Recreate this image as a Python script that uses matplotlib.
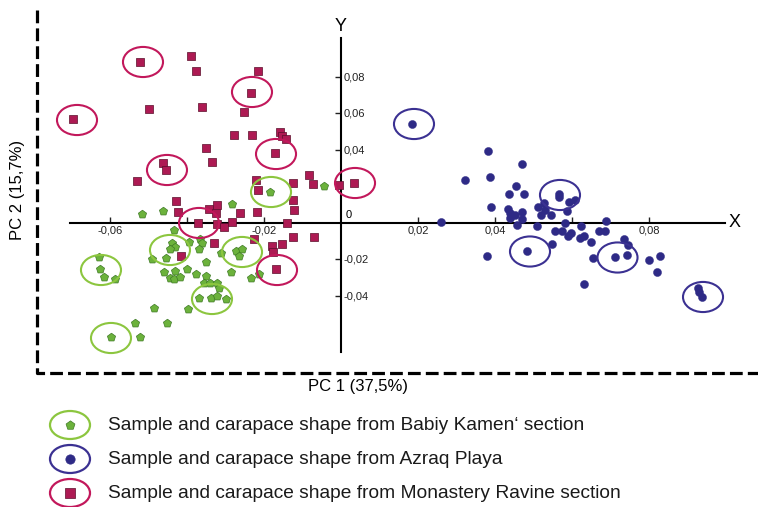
import numpy as np
import matplotlib.pyplot as plt
from matplotlib.patches import Ellipse

plt.rcParams['font.family'] = ['Liberation Sans', 'DejaVu Sans']

# Monastery Ravine section (squares)
mr_x = [-0.05213, -0.03896, -0.03758, -0.02148, -0.02338, -0.04979, -0.06961, -0.03603,
        -0.02519, -0.02779, -0.02304, -0.01584, -0.01525, -0.01429, -0.03514, -0.01706,
        -0.04623, -0.04545, -0.03343, -0.05291, -0.00823, -0.02200, -0.01247, -0.00719,
        -0.02156, -0.00052, 0.00330, -0.04286, -0.01247, -0.04226, -0.03421, -0.03229,
        -0.03247, -0.02623, -0.02174, -0.01213, -0.03727, -0.03229, -0.02831, -0.01390,
        -0.03039, -0.03291, -0.04156, -0.01239, -0.00694, -0.01784, -0.01525, -0.02252,
        -0.01758, -0.01688]
mr_y = [0.08778, 0.09107, 0.08285, 0.08301, 0.07079, 0.06236, 0.05688, 0.06345,
        0.06038, 0.04811, 0.04811, 0.04975, 0.04740, 0.04575, 0.04082, 0.03792,
        0.03244, 0.02893, 0.03299, 0.02290, 0.02603, 0.02329, 0.02148, 0.02110,
        0.01781, 0.02038, 0.02148, 0.01162, 0.01216, 0.00592, 0.00740, 0.00959,
        0.00521, 0.00504, 0.00559, 0.00668, -0.00044, -0.00082, 0.00011, -0.00044,
        -0.00230, -0.01140, -0.01852, -0.00795, -0.00811, -0.01315, -0.01167, -0.00904,
        -0.01600, -0.02564]

# Babiy Kamen' section (pentagons)
bk_x = [-0.05177, -0.04616, -0.02831, -0.01857, -0.00431, -0.04338, -0.04382, -0.04312,
        -0.04449, -0.03956, -0.03662, -0.03623, -0.03696, -0.04558, -0.04917, -0.06281,
        -0.06260, -0.06156, -0.05862, -0.03117, -0.02727, -0.02579, -0.02649, -0.03506,
        -0.04590, -0.04304, -0.04442, -0.04330, -0.04174, -0.03992, -0.03774, -0.03499,
        -0.02865, -0.02330, -0.02122, -0.03551, -0.03403, -0.03229, -0.03161, -0.03680,
        -0.03369, -0.03229, -0.02987, -0.04849, -0.03982, -0.05343, -0.04512, -0.05974,
        -0.05221]
bk_y = [0.00455, 0.00630, 0.00997, 0.01682, 0.01978, -0.00438, -0.01096, -0.01326,
        -0.01468, -0.01085, -0.00877, -0.01123, -0.01436, -0.01918, -0.02016, -0.01874,
        -0.02532, -0.02986, -0.03096, -0.01671, -0.01545, -0.01479, -0.01852, -0.02164,
        -0.02729, -0.02641, -0.03058, -0.03096, -0.02970, -0.02564, -0.02822, -0.02915,
        -0.02729, -0.03058, -0.02822, -0.03299, -0.03299, -0.03332, -0.03605, -0.04137,
        -0.04137, -0.04011, -0.04208, -0.04685, -0.04740, -0.05490, -0.05507, -0.06274,
        -0.06258]

# Azraq Playa (dots)
az_x = [0.01836, 0.03810, 0.04709, 0.03221, 0.03870, 0.04553, 0.04356, 0.04753,
        0.05655, 0.05670, 0.05930, 0.06078, 0.03888, 0.04345, 0.04377, 0.04397,
        0.04527, 0.04701, 0.04714, 0.04579, 0.05125, 0.05260, 0.05306, 0.05182,
        0.05447, 0.05862, 0.02597, 0.05099, 0.05818, 0.05571, 0.05753, 0.05888,
        0.05974, 0.06229, 0.06216, 0.06299, 0.06506, 0.06701, 0.06862, 0.06896,
        0.07345, 0.07462, 0.05473, 0.04831, 0.03784, 0.06553, 0.07125, 0.07421,
        0.08005, 0.08286, 0.08208, 0.06299, 0.09273, 0.09304, 0.09382]
az_y = [0.05414, 0.03934, 0.03222, 0.02345, 0.02477, 0.02016, 0.01545, 0.01545,
        0.01578, 0.01381, 0.01140, 0.01233, 0.00849, 0.00740, 0.00504, 0.00247,
        0.00411, 0.00548, 0.00208, -0.00121, 0.00849, 0.01068, 0.00685, 0.00411,
        0.00384, 0.00630, 0.00011, -0.00219, -0.00027, -0.00466, -0.00466, -0.00756,
        -0.00548, -0.00181, -0.00822, -0.00723, -0.01058, -0.00477, -0.00477, 0.00082,
        -0.00921, -0.01233, -0.01195, -0.01578, -0.01852, -0.01956, -0.01890, -0.01781,
        -0.02066, -0.01852, -0.02701, -0.03359, -0.03589, -0.03781, -0.04066]

# samples with carapace shape drawn (circled)
mr_circ_x = [-0.05143, -0.02312, -0.06857, -0.01688, -0.04520, 0.00364, -0.03688, -0.01662]
mr_circ_y = [0.08795, 0.07151, 0.05616, 0.03753, 0.02877, 0.02164, -0.00027, -0.02603]
bk_circ_x = [-0.01818, -0.04442, -0.02571, -0.06234, -0.03351, -0.05974]
bk_circ_y = [0.01671, -0.01507, -0.01616, -0.02603, -0.04192, -0.06329]
az_circ_x = [0.01896, 0.05688, 0.04909, 0.07182, 0.09403]
az_circ_y = [0.05397, 0.01507, -0.01589, -0.01918, -0.04082]

xticks = [-0.06, -0.04, -0.02, 0.02, 0.04, 0.06, 0.08]
xtick_labels = ['-0,06', '', '-0,02', '0,02', '0,04', '', '0,08']
yticks = [-0.04, -0.02, 0.02, 0.04, 0.06, 0.08]
ytick_labels = ['-0,04', '-0,02', '', '0,04', '0,06', '0,08']

legend_labels = ['Sample and carapace shape from Babiy Kamen\u2018 section',
                 'Sample and carapace shape from Azraq Playa',
                 'Sample and carapace shape from Monastery Ravine section']

green, green_ring = '#6cb23c', '#8cc63f'
blue, blue_ring = '#2e2a86', '#3b3192'
red, red_ring = '#ad1a53', '#c2185b'

W, H = 758, 507
fig = plt.figure(figsize=(W / 100, H / 100), dpi=100)
ax = fig.add_axes([0, 0, 1, 1])
ax.set_xlim(-341 / 3850, (W - 341) / 3850)
ax.set_ylim((222.5 - H) / 1825, 222.5 / 1825)

# axes crossing at origin
ax.spines['top'].set_visible(False)
ax.spines['left'].set_visible(False)
ax.spines['bottom'].set_position(('data', 0))
ax.spines['right'].set_position(('data', 0))
ax.spines['bottom'].set_bounds(-0.0703, 0.0997)
ax.spines['right'].set_bounds(-0.071, 0.101)
for s in ('bottom', 'right'):
    ax.spines[s].set_linewidth(1.5)
ax.xaxis.tick_bottom()
ax.yaxis.tick_right()
ax.set_xticks(xticks, xtick_labels)
ax.set_yticks(yticks, ytick_labels)
ax.tick_params(direction='in', length=4, width=1, labelsize=8, pad=2, colors='#222222')
ax.set_facecolor('none')

ax.annotate('0', (0, 0), xytext=(3, 2), textcoords='offset points', fontsize=8, va='bottom')
ax.annotate('Y', (0, 0.101), xytext=(0, 2), textcoords='offset points',
            fontsize=13, ha='center', va='bottom')
ax.annotate('X', (0.0997, 0), xytext=(3, 0), textcoords='offset points',
            fontsize=13, ha='left', va='center')

# points
ax.scatter(mr_x, mr_y, marker='s', s=30, c=red, edgecolors='#5b0d2b', linewidths=0.5, zorder=3)
ax.scatter(bk_x, bk_y, marker='p', s=38, c=green, edgecolors='#3f7a26', linewidths=0.5, zorder=3)
ax.scatter(az_x, az_y, marker='o', s=34, c=blue, edgecolors=blue, linewidths=0.3, zorder=3)

# circled samples
ew, eh = 0.0104, 0.0165
for xs, ys, col in ((mr_circ_x, mr_circ_y, red_ring),
                    (bk_circ_x, bk_circ_y, green_ring),
                    (az_circ_x, az_circ_y, blue_ring)):
    for cx, cy in zip(xs, ys):
        ax.add_patch(Ellipse((cx, cy), ew, eh, fill=False, edgecolor=col, lw=1.5, zorder=4))

# dashed frame
fx = lambda px: px / W
fy = lambda py: 1 - py / H
ax.plot([fx(37), fx(37), 1.0], [fy(10), fy(373), fy(373)], transform=ax.transAxes,
        color='black', lw=2.3, linestyle=(0, (4, 1.6)), clip_on=False)

ax.text(fx(18), fy(190), 'PC 2 (15,7%)', transform=ax.transAxes, rotation=90,
        ha='center', va='center', fontsize=12)
ax.text(fx(358), fy(387), 'PC 1 (37,5%)', transform=ax.transAxes,
        ha='center', va='center', fontsize=12)

# legend
leg_y = [425, 459, 493]
for py, lab, mk, fc, ec, ring in zip(leg_y, legend_labels, ['p', 'o', 's'],
                                     [green, blue, red], ['#3f7a26', blue, '#5b0d2b'],
                                     [green_ring, blue_ring, red_ring]):
    ax.add_patch(Ellipse((fx(70), fy(py)), 40 / W, 28 / H, fill=False, edgecolor=ring,
                         lw=1.6, transform=ax.transAxes, clip_on=False))
    ax.scatter([fx(70)], [fy(py)], marker=mk, s=45, c=fc, edgecolors=ec, linewidths=0.5,
               transform=ax.transAxes, clip_on=False)
    ax.text(fx(108), fy(py), lab, transform=ax.transAxes, ha='left', va='center',
            fontsize=13.8, color='#1a1a1a')

fig.savefig('out.png', dpi=100)
